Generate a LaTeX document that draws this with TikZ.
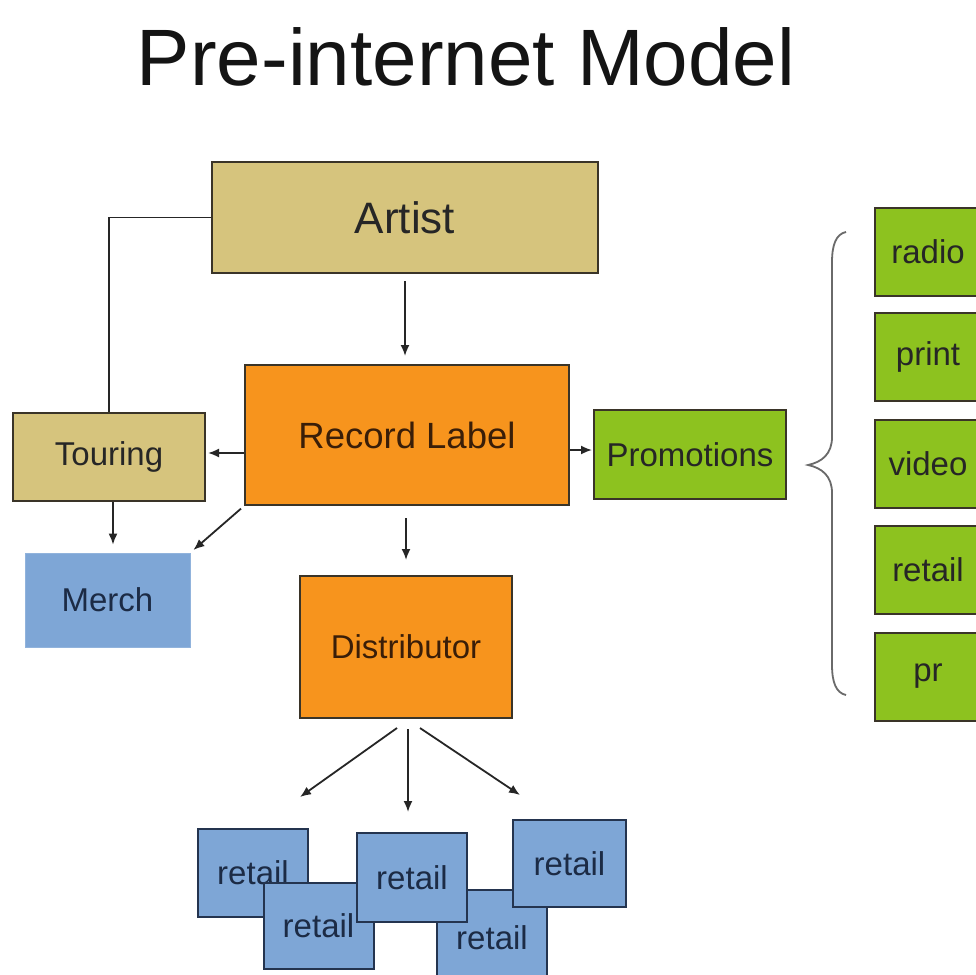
\documentclass[tikz,border=0pt]{standalone}
\usepackage{fontspec}
\setmainfont{Liberation Sans}
\usetikzlibrary{arrows.meta}
\definecolor{tanfill}{HTML}{D6C47D}
\definecolor{orangefill}{HTML}{F7941D}
\definecolor{greenfill}{HTML}{8DC21F}
\definecolor{bluefill}{HTML}{7EA6D6}
\definecolor{boxline}{HTML}{3A3428}
\definecolor{navyline}{HTML}{24344F}
\definecolor{navytext}{HTML}{1C2B45}
\definecolor{browntext}{HTML}{3A1E08}
\definecolor{bracegray}{HTML}{6A6A6A}
\tikzset{
  box/.style={rectangle, draw=boxline, line width=2pt, inner sep=0pt, align=center},
  tanbox/.style={box, fill=tanfill, text=black!85},
  orbox/.style={box, fill=orangefill, text=browntext},
  grbox/.style={box, fill=greenfill, text=black!85},
  sidebox/.style={grbox, minimum width=106pt, minimum height=88pt},
  retailbox/.style={box, draw=navyline, fill=bluefill, text=navytext, minimum width=110pt, minimum height=88pt},
  mid/.style={font=\fontsize{33}{38}\selectfont},
  arr/.style={-{Latex[length=11pt,width=9pt]}, line width=1.8pt, draw=black!85},
  link/.style={line width=1.8pt, draw=black!85}
}
\begin{document}
\begin{tikzpicture}[x=1pt,y=-1pt]
\useasboundingbox (0,0) rectangle (976,974);
\clip (0,0) rectangle (976,974);
\fill[white] (0,0) rectangle (976,974);

\node[anchor=base, font=\fontsize{80}{90}\selectfont, text=black!92] (title) at (466,85) {Pre-internet Model};

\node[tanbox, minimum width=386pt, minimum height=111pt, font=\fontsize{44}{50}\selectfont] (artist) at (405,217.5) {Artist};
\node[orbox, minimum width=324pt, minimum height=140pt, font=\fontsize{36.5}{42}\selectfont] (rl) at (407,435) {Record Label};
\node[tanbox, mid, minimum width=192pt, minimum height=88pt] (touring) at (109,457) {\raisebox{-8pt}{Touring}};
\node[grbox, mid, minimum width=192pt, minimum height=89pt] (promo) at (690,454.5) {\raisebox{-4pt}{Promotions}};
\node[box, mid, draw=bluefill!85!white, line width=0.8pt, fill=bluefill, text=navytext, minimum width=165pt, minimum height=94pt] (merch) at (107.5,600) {Merch};
\node[orbox, mid, minimum width=212pt, minimum height=142pt] (dist) at (406,647) {Distributor};

% right column
\node[sidebox, mid] (radio) at (928,252) {radio};
\node[sidebox, mid] (print) at (928,357) {print};
\node[sidebox, mid] (video) at (928,464) {video};
\node[sidebox, mid] (retailp) at (928,570) {retail};
\node[sidebox, mid] (pr) at (928,676.5) {pr};

% brace
\draw[bracegray, line width=1.8pt]
  (846,232) .. controls (836,234) and (832,245) .. (832,262) -- (832,437)
  .. controls (832,454) and (822,462) .. (808,465)
  .. controls (822,468) and (832,476) .. (832,493) -- (832,665)
  .. controls (832,682) and (836,693) .. (846,695);

% retail stack
\node[retailbox, mid] (r1) at (253,873) {retail};
\node[retailbox, mid, minimum height=86pt] (r2) at (318.5,926) {retail};
\node[retailbox, mid, minimum height=95pt] (r4) at (492,937.5) {retail};
\node[retailbox, mid, minimum height=89pt] (r3) at (412,877.5) {retail};
\node[retailbox, mid, minimum width=113pt, minimum height=87pt] (r5) at (569.5,863.5) {retail};

% connectors
\draw[link] (artist.west) -| (touring.north);
\draw[arr, shorten <=7pt, shorten >=8pt] (artist.south) -- (artist.south |- rl.north);
\draw[arr, shorten >=2pt] ([yshift=-18pt]rl.west) -- ([yshift=-18pt]rl.west -| touring.east);
\draw[arr, shorten >=1pt] ([yshift=-15pt]rl.east) -- ([yshift=-15pt]rl.east -| promo.west);
\draw[arr, shorten >=8pt] ([xshift=4pt]touring.south) -- ([xshift=4pt]touring.south |- merch.north);
\draw[arr, shorten <=4pt, shorten >=4pt] (rl.south west) -- (merch.north east);
\draw[arr, shorten <=12pt, shorten >=15pt] (dist.north |- rl.south) -- (dist.north);

\coordinate (d1) at (300,797);
\coordinate (d2) at (408,812);
\coordinate (d3) at (520,795);
\draw[arr] ([xshift=-9pt,yshift=-9pt]dist.south) -- (d1);
\draw[arr] ([xshift=2pt,yshift=-10pt]dist.south) -- (d2);
\draw[arr] ([xshift=14pt,yshift=-9pt]dist.south) -- (d3);
\end{tikzpicture}
\end{document}
